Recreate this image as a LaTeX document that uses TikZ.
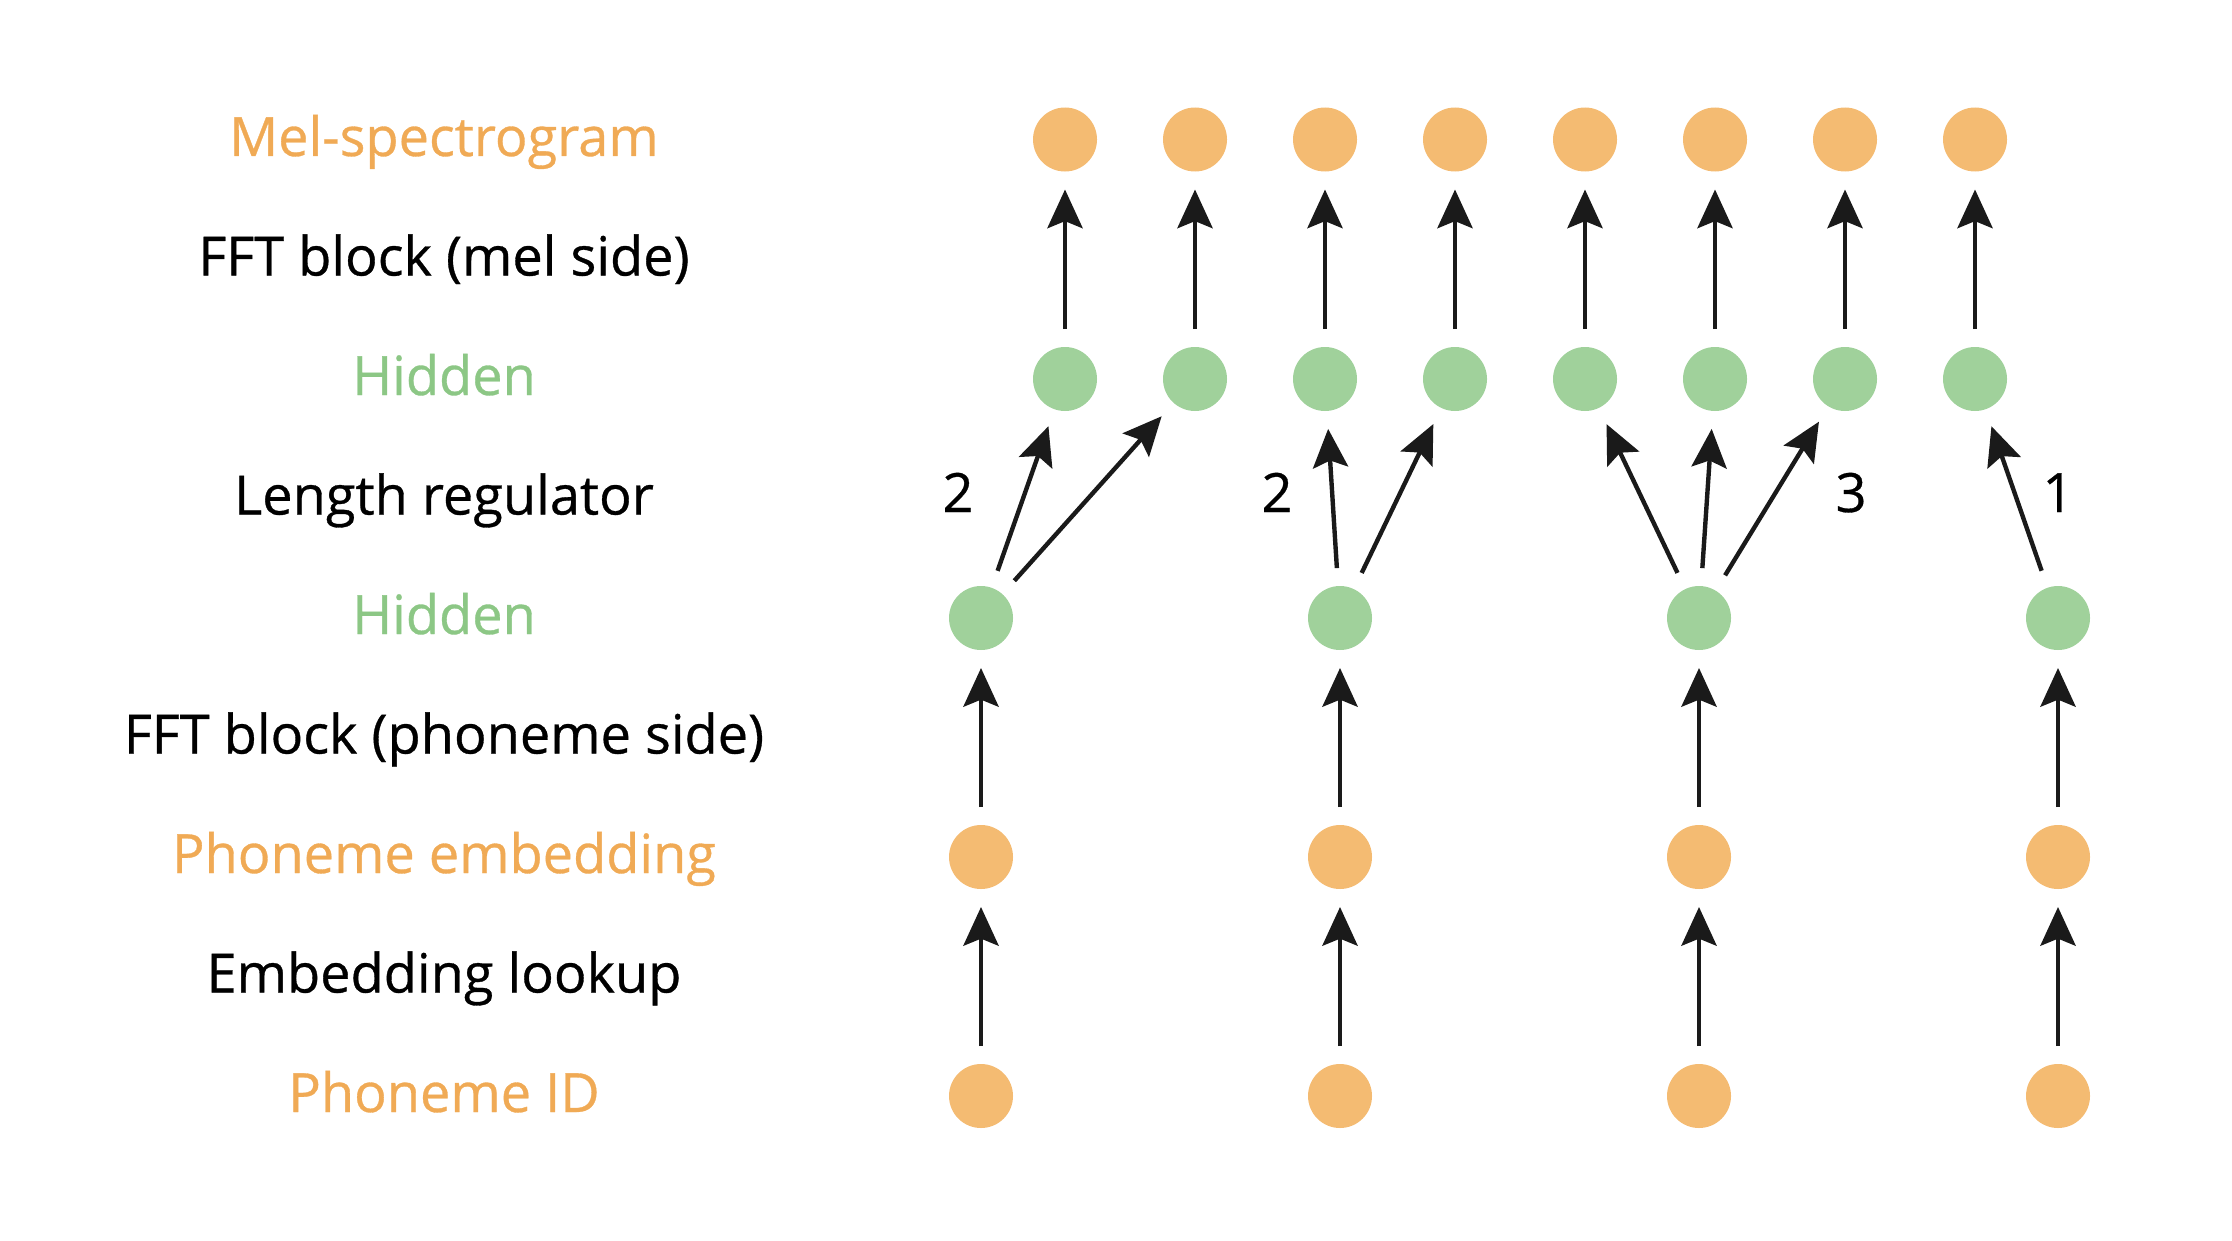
\documentclass[tikz,border=0pt]{standalone}
\usepackage{fontspec}
\setmainfont{Open Sans}[UprightFeatures={FakeBold=0.6}]
\usetikzlibrary{arrows.meta}
\definecolor{MyOrange}{HTML}{F4BB72}
\definecolor{MyGreen}{HTML}{A0D19B}
\definecolor{OrangeText}{HTML}{F0AA55}
\definecolor{GreenText}{HTML}{8CC785}
\definecolor{ArrowBlack}{HTML}{1A1A1A}

\begin{document}
\begin{tikzpicture}[
    dot/.style={circle,minimum size=0.64cm,inner sep=0pt,outer sep=0.18cm},
    melnode/.style={dot,fill=MyOrange},
    hidnode/.style={dot,fill=MyGreen},
    lbl/.style={anchor=base,font=\fontsize{15.4}{18}\selectfont},
    link/.style={line width=1.25pt,ArrowBlack,-{Stealth[length=11pt,width=10pt,inset=2pt]}}
]
\useasboundingbox (0,0) rectangle (22.32,12.40);

\foreach[count=\i] \t/\c in {Mel-spectrogram/OrangeText,FFT block (mel side)/black,Hidden/GreenText,Length regulator/black,Hidden/GreenText,FFT block (phoneme side)/black,Phoneme embedding/OrangeText,Embedding lookup/black,Phoneme ID/OrangeText} {
    \node[lbl,text=\c] (lab\i) at (4.44,{11.02-1.195*(\i-1)-0.18}) {\t};
}

\foreach \i in {1,...,8} {
    \node[melnode] (m\i) at ({10.65+1.30*(\i-1)},11.005) {};
    \node[hidnode] (h\i) at ({10.65+1.30*(\i-1)},8.61) {};
    \draw[link] (h\i) -- (m\i);
}
\foreach \j in {1,...,4} {
    \node[hidnode] (g\j) at ({9.81+3.59*(\j-1)},6.22) {};
    \node[melnode] (e\j) at ({9.81+3.59*(\j-1)},3.83) {};
    \node[melnode] (p\j) at ({9.81+3.59*(\j-1)},1.44) {};
    \draw[link] (p\j) -- (e\j);
    \draw[link] (e\j) -- (g\j);
}
\foreach \a/\b in {1/1,1/2,2/3,2/4,3/5,3/6,3/7,4/8}
    \draw[link] (g\a) -- (h\b);

\node[lbl] (n1) at (9.58,7.28) {2};
\node[lbl] (n2) at (12.77,7.28) {2};
\node[lbl] (n3) at (18.51,7.28) {3};
\node[lbl] (n4) at (20.58,7.28) {1};
\end{tikzpicture}
\end{document}
